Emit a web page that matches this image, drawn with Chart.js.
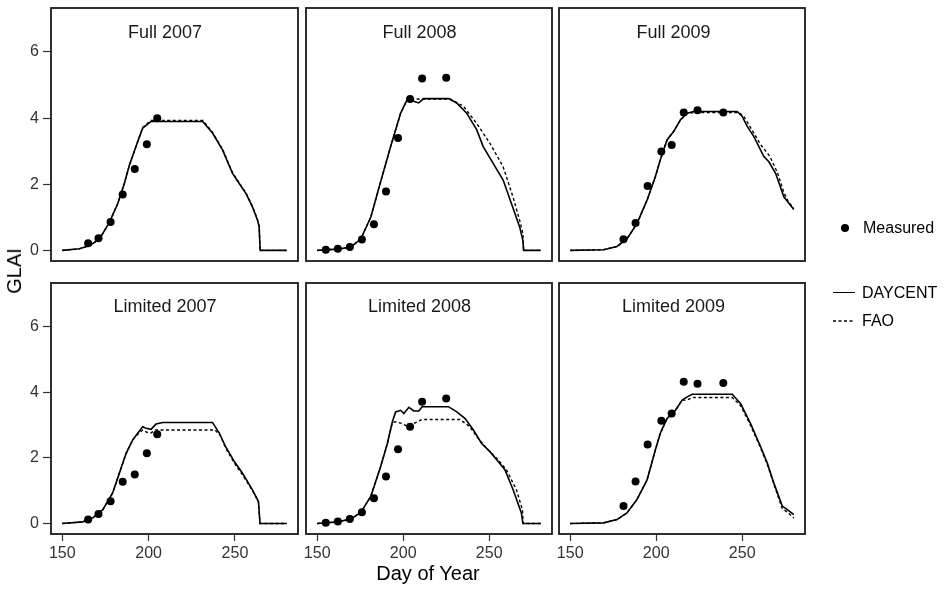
<!DOCTYPE html>
<html>
<head>
<meta charset="utf-8">
<script src="https://cdn.jsdelivr.net/npm/chart.js@4/dist/chart.umd.min.js"></script>
<style>
  html, body { margin: 0; padding: 0; background: #ffffff; }
  #wrap { position: relative; width: 946px; height: 592px; overflow: hidden; font-family: "Liberation Sans", Arial, sans-serif; color: #000; }
  canvas { position: absolute; left: 0; top: 0; }
  .ptitle { position: absolute; font-size: 18px; line-height: 18px; white-space: nowrap; transform: translateX(-50%); color: #1a1a1a; }
  .axtitle { position: absolute; font-size: 20px; line-height: 20px; white-space: nowrap; color: #000; }
  .leg { position: absolute; font-size: 16px; line-height: 16px; white-space: nowrap; color: #000; }
</style>
</head>
<body>
<div id="wrap">
  <canvas id="c0" width="946" height="592"></canvas>
  <canvas id="c1" width="946" height="592"></canvas>
  <canvas id="c2" width="946" height="592"></canvas>
  <canvas id="c3" width="946" height="592"></canvas>
  <canvas id="c4" width="946" height="592"></canvas>
  <canvas id="c5" width="946" height="592"></canvas>
  <div id="titles"></div>
  <div class="axtitle" style="left:428px; top:563px; transform:translateX(-50%);">Day of Year</div>
  <div class="axtitle" style="left:14px; top:271px; transform:translate(-50%,-50%) rotate(-90deg);">GLAI</div>
  <div style="position:absolute; left:841px; top:224px; width:8px; height:8px; border-radius:50%; background:#000;"></div>
  <div class="leg" style="left:863px; top:220px;">Measured</div>
  <div style="position:absolute; left:833px; top:292px; width:22px; height:0; border-top:1.6px solid #000;"></div>
  <div class="leg" style="left:862px; top:285px;">DAYCENT</div>
  <svg style="position:absolute; left:833px; top:318px;" width="24" height="6"><line x1="0" y1="3" x2="22" y2="3" stroke="#000" stroke-width="1.4" stroke-dasharray="3,2.5"/></svg>
  <div class="leg" style="left:862px; top:313px;">FAO</div>
</div>
<script>
// ---------------- data ----------------
const panelTitles = ["Full 2007", "Full 2008", "Full 2009", "Limited 2007", "Limited 2008", "Limited 2009"];
const xTickValues = [150, 200, 250];
const yTickValues = [0, 2, 4, 6];

// Measured GLAI (day of year, value)
const measDays2007 = [165, 171, 178, 185, 192, 199, 205];
const measDays2008 = [155, 162, 169, 176, 183, 190, 197, 204, 211, 225];
const measDays2009 = [181, 188, 195, 203, 209, 216, 224, 239];
const measFull2007 = [0.22, 0.37, 0.86, 1.69, 2.46, 3.21, 4.0];
const measFull2008 = [0.02, 0.05, 0.1, 0.33, 0.79, 1.78, 3.4, 4.58, 5.2, 5.22];
const measFull2009 = [0.34, 0.83, 1.95, 2.99, 3.19, 4.17, 4.24, 4.17];
const measLimited2007 = [0.12, 0.29, 0.68, 1.27, 1.49, 2.14, 2.72];
const measLimited2008 = [0.02, 0.06, 0.14, 0.34, 0.77, 1.43, 2.26, 2.95, 3.71, 3.81];
const measLimited2009 = [0.53, 1.28, 2.41, 3.13, 3.35, 4.32, 4.26, 4.28];

// Simulated GLAI, [day, value]
const daycentFull2007 = [[150,0],[160,0.05],[166,0.15],[171.6,0.35],[177.3,0.85],[182.1,1.41],[186,2.03],[188.9,2.58],[192.7,3.14],[196.6,3.7],[201.4,3.9],[206,3.9],[231.3,3.9],[237,3.55],[242.8,3.04],[248.6,2.33],[251.5,2.1],[256.4,1.72],[260.2,1.31],[263.1,0.91],[264,0.71],[264.6,0],[280,0]];
const faoFull2007 = [[150,0],[160,0.05],[166,0.15],[171.6,0.35],[177.3,0.85],[182.1,1.41],[186,2.03],[188.9,2.58],[192.7,3.14],[196.6,3.72],[201.4,3.93],[231.5,3.93],[237,3.57],[242.8,3.06],[248.6,2.35],[251.5,2.12],[256.4,1.74],[260.2,1.32],[263.1,0.92],[264,0.72],[264.6,0],[280,0]];
const daycentFull2008 = [[150,0],[162,0.04],[169.6,0.1],[175.4,0.35],[181.2,1.01],[186.9,2.08],[192.7,3.14],[198.5,4.15],[202.3,4.56],[204.2,4.58],[206.5,4.5],[209,4.46],[211.9,4.59],[226.3,4.59],[231.1,4.46],[236.9,4.15],[242.7,3.65],[246.5,3.14],[252.3,2.63],[258.1,2.13],[262.9,1.42],[267.7,0.71],[269.6,0.3],[270,0],[280,0]];
const faoFull2008 = [[150,0],[162,0.04],[169.6,0.1],[175.4,0.35],[181.2,1.01],[186.9,2.08],[192.7,3.14],[198.5,4.15],[202.3,4.56],[204.2,4.58],[227.3,4.58],[235,4.36],[242.7,3.84],[250.4,3.24],[258.1,2.53],[263.8,1.62],[267.7,0.91],[269.6,0.51],[270,0],[280,0]];
const daycentFull2009 = [[150,0],[169.4,0.02],[177.2,0.12],[183,0.35],[188.8,0.81],[194.7,1.52],[199.5,2.23],[202.4,2.74],[206.3,3.34],[210.2,3.6],[214.1,3.95],[218,4.15],[221.8,4.2],[247.1,4.2],[250,4.05],[252.9,3.75],[256.8,3.44],[262.6,2.84],[265.5,2.68],[269.4,2.33],[274.2,1.62],[280,1.24]];
const faoFull2009 = [[150,0],[169.4,0.02],[177.2,0.12],[183,0.35],[188.8,0.81],[194.7,1.52],[199.5,2.23],[202.4,2.74],[206.3,3.34],[210.2,3.6],[214.1,3.95],[218,4.13],[221.8,4.17],[248,4.17],[251,4.05],[255,3.7],[260.7,3.2],[266,2.85],[270.5,2.35],[274.2,1.75],[277,1.45],[280,1.28]];
const daycentLimited2007 = [[150,0],[161.9,0.05],[167.7,0.17],[173.5,0.42],[179.2,0.93],[183.1,1.54],[187,2.14],[190.8,2.55],[193.7,2.75],[196.6,2.95],[198.6,2.9],[201.4,2.87],[204.3,3.03],[208.2,3.08],[237,3.08],[241,2.75],[244.6,2.34],[249.6,1.89],[254.4,1.53],[260.2,1.02],[263.6,0.67],[264.5,0],[280,0]];
const faoLimited2007 = [[150,0],[161.9,0.05],[167.7,0.17],[173.5,0.42],[179.2,0.93],[183.1,1.54],[187,2.14],[190.8,2.55],[193.7,2.72],[196.6,2.85],[199,2.78],[201.4,2.76],[204,2.85],[238.5,2.85],[241.5,2.68],[244.6,2.3],[249.6,1.85],[254.4,1.48],[260.2,1.0],[263.6,0.66],[264.5,0],[280,0]];
const daycentLimited2008 = [[150,0],[162,0.05],[169.6,0.14],[175.4,0.34],[181.2,0.83],[186.9,1.74],[190.8,2.44],[193.7,3.1],[195.6,3.4],[198.5,3.45],[200.4,3.35],[203.3,3.54],[206.2,3.43],[209.1,3.43],[211,3.56],[226.3,3.56],[231.2,3.4],[236,3.2],[240.8,2.85],[245.6,2.44],[250.4,2.19],[255.2,1.89],[259.1,1.64],[263.9,1.03],[268.7,0.32],[269.6,0],[280,0]];
const faoLimited2008 = [[150,0],[162,0.05],[169.6,0.14],[175.4,0.34],[181.2,0.83],[186.9,1.74],[190.8,2.44],[193.7,3.08],[196,3.1],[199,3.05],[202.3,2.97],[206.2,3.05],[211,3.17],[233,3.17],[238.8,2.95],[242.7,2.65],[248.5,2.29],[254.3,1.99],[260,1.64],[265.8,1.03],[269.3,0.42],[269.8,0],[280,0]];
const daycentLimited2009 = [[150,0],[169.4,0.02],[177.2,0.12],[183,0.32],[188.8,0.73],[194.7,1.33],[199.5,2.24],[202.4,2.75],[206.3,3.2],[211.2,3.45],[215.1,3.76],[218,3.86],[220.9,3.94],[244.2,3.94],[249,3.66],[254.8,3.05],[260.7,2.34],[264.6,1.84],[268.4,1.23],[273.3,0.53],[276.2,0.42],[280,0.27]];
const faoLimited2009 = [[150,0],[169.4,0.02],[177.2,0.12],[183,0.32],[188.8,0.73],[194.7,1.33],[199.5,2.24],[202.4,2.75],[206.3,3.2],[211.2,3.45],[215.1,3.76],[218,3.76],[220.9,3.84],[244.2,3.84],[249,3.6],[254.8,3.0],[260.7,2.3],[264.6,1.8],[268.4,1.2],[273.3,0.45],[276.2,0.35],[280,0.17]];

// ---------------- layout ----------------
const W = 946, H = 592;
const colEdges = [[51, 298], [306, 552], [559, 805]];
const rowEdges = [[8, 261], [283, 534]];
const titleCenters = [165, 419.5, 673.5];
const titleTops = [23, 297];
const yAxisW = 40, xAxisH = 40;
const xRange = [143.5, 286.5];
const yRange = [-0.32, 7.33];

const measDays = [measDays2007, measDays2008, measDays2009, measDays2007, measDays2008, measDays2009];
const measVals = [measFull2007, measFull2008, measFull2009, measLimited2007, measLimited2008, measLimited2009];
const daycent = [daycentFull2007, daycentFull2008, daycentFull2009, daycentLimited2007, daycentLimited2008, daycentLimited2009];
const fao = [faoFull2007, faoFull2008, faoFull2009, faoLimited2007, faoLimited2008, faoLimited2009];

const FONT = "'Liberation Sans', Arial, sans-serif";

const borderPlugin = {
  id: 'panelBorder',
  afterDatasetsDraw(chart) {
    const a = chart.chartArea, ctx = chart.ctx;
    ctx.save();
    ctx.strokeStyle = '#1a1a1a';
    ctx.lineWidth = 1.8;
    ctx.strokeRect(a.left, a.top, a.right - a.left, a.bottom - a.top);
    ctx.restore();
  }
};

function zeroPad(s) { s.paddingTop = 0; s.paddingBottom = 0; s.paddingLeft = 0; s.paddingRight = 0; }

const titlesDiv = document.getElementById('titles');

for (let i = 0; i < 6; i++) {
  const r = Math.floor(i / 3), c = i % 3;
  const [L, R] = colEdges[c];
  const [T, B] = rowEdges[r];
  const showY = c === 0, showX = r === 1;

  const t = document.createElement('div');
  t.className = 'ptitle';
  t.style.left = titleCenters[c] + 'px';
  t.style.top = titleTops[r] + 'px';
  t.textContent = panelTitles[i];
  titlesDiv.appendChild(t);

  const pts = measDays[i].map((d, k) => ({ x: d, y: measVals[i][k] }));
  const dc = daycent[i].map(p => ({ x: p[0], y: p[1] }));
  const fa = fao[i].map(p => ({ x: p[0], y: p[1] }));

  new Chart(document.getElementById('c' + i), {
    type: 'scatter',
    data: {
      datasets: [
        { label: 'Measured', data: pts, pointRadius: 4, pointBackgroundColor: '#000', pointBorderColor: '#000', pointBorderWidth: 0, showLine: false },
        { label: 'DAYCENT', data: dc, showLine: true, borderColor: '#000', borderWidth: 1.6, pointRadius: 0, tension: 0, fill: false },
        { label: 'FAO', data: fa, showLine: true, borderColor: '#000', borderWidth: 1.4, borderDash: [3, 2.5], pointRadius: 0, tension: 0, fill: false }
      ]
    },
    options: {
      responsive: false,
      animation: false,
      devicePixelRatio: 1,
      events: [],
      layout: {
        padding: {
          left: showY ? L - yAxisW : L,
          right: W - R,
          top: T,
          bottom: showX ? H - B - xAxisH : H - B
        }
      },
      plugins: { legend: { display: false }, tooltip: { enabled: false }, title: { display: false } },
      scales: {
        x: {
          type: 'linear',
          min: xRange[0], max: xRange[1],
          display: showX,
          afterBuildTicks: s => { s.ticks = xTickValues.map(v => ({ value: v })); },
          afterFit: s => { s.height = showX ? xAxisH : 0; zeroPad(s); },
          grid: { drawOnChartArea: false, drawTicks: true, tickLength: 7, tickColor: '#333', tickWidth: 1.2 },
          border: { display: false },
          ticks: { color: '#333', padding: 3, font: { family: FONT, size: 16 }, maxRotation: 0 }
        },
        y: {
          type: 'linear',
          min: yRange[0], max: yRange[1],
          display: showY,
          afterBuildTicks: s => { s.ticks = yTickValues.map(v => ({ value: v })); },
          afterFit: s => { s.width = showY ? yAxisW : 0; zeroPad(s); },
          grid: { drawOnChartArea: false, drawTicks: true, tickLength: 8, tickColor: '#333', tickWidth: 1.2 },
          border: { display: false },
          ticks: { color: '#333', padding: 4, font: { family: FONT, size: 16 } }
        }
      }
    },
    plugins: [borderPlugin]
  });
}
</script>
</body>
</html>
